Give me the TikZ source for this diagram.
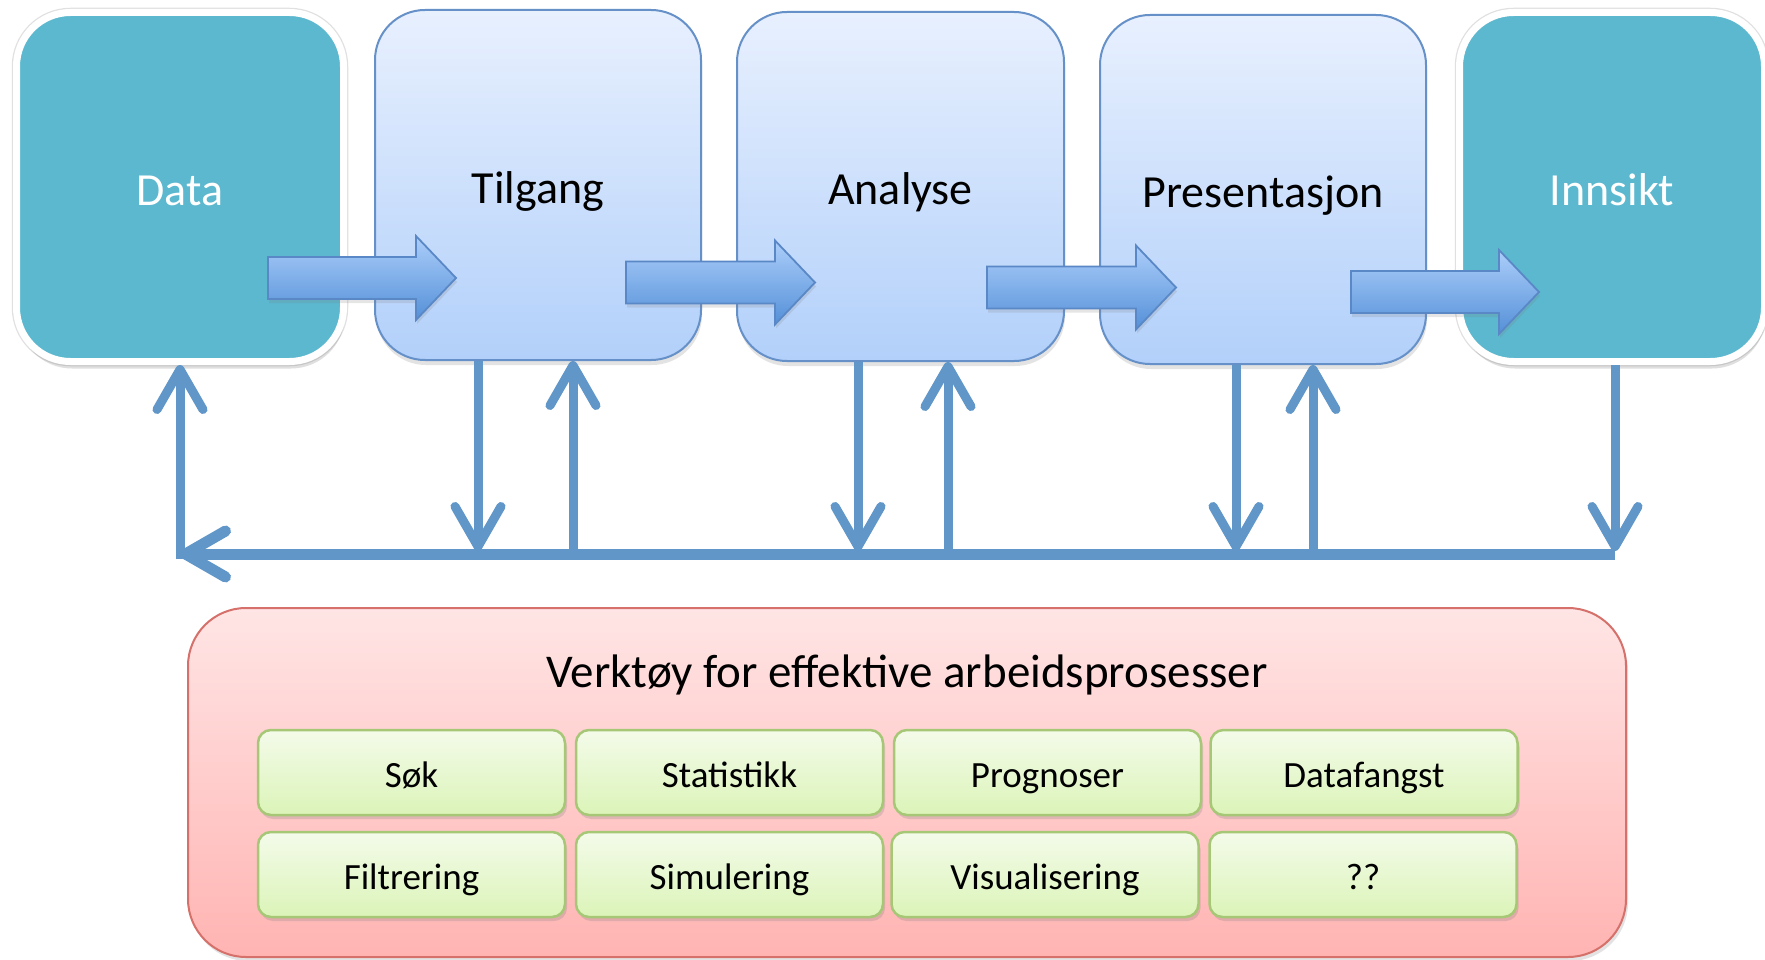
\documentclass[tikz,border=0pt]{standalone}
\usepackage{fontspec}
\setmainfont{Carlito}
\usetikzlibrary{arrows.meta,shadows,calc}
\definecolor{tealfill}{RGB}{91,184,207}
\definecolor{bluetop}{RGB}{232,240,254}
\definecolor{bluebot}{RGB}{178,208,250}
\definecolor{blueline}{RGB}{102,144,200}
\definecolor{arrtop}{RGB}{172,206,250}
\definecolor{arrbot}{RGB}{84,144,216}
\definecolor{arrline}{RGB}{90,136,198}
\definecolor{fbcol}{RGB}{96,150,200}
\definecolor{redtop}{RGB}{255,229,229}
\definecolor{redbot}{RGB}{255,180,178}
\definecolor{redline}{RGB}{214,112,106}
\definecolor{greentop}{RGB}{244,251,234}
\definecolor{greenbot}{RGB}{219,244,184}
\definecolor{greenline}{RGB}{166,200,118}
\newcommand{\flowarrow}[3]{%
  \draw[blockarrow] (#1,{#3-21}) -- ({#2-40},{#3-21}) -- ({#2-40},{#3-42}) -- (#2,#3)
    -- ({#2-40},{#3+42}) -- ({#2-40},{#3+21}) -- (#1,{#3+21}) -- cycle;}
\tikzset{
  bigtext/.style={font=\fontsize{46}{50}\selectfont, text height=46pt, text depth=9.2pt},
  tealbox/.style={rectangle, rounded corners=54pt, fill=tealfill, draw=white, line width=7pt,
    preaction={draw=black!12, line width=9.5pt},
    text=white, bigtext, inner sep=0pt,
    drop shadow={opacity=0.25, shadow xshift=1.5pt, shadow yshift=-7pt}},
  bluebox/.style={rectangle, rounded corners=50pt, top color=bluetop, bottom color=bluebot,
    draw=blueline, line width=2pt, text=black, bigtext, inner sep=0pt,
    drop shadow={opacity=0.22, shadow xshift=1pt, shadow yshift=-5pt}},
  blockarrow/.style={top color=arrtop, bottom color=arrbot, draw=arrline, line width=1.8pt,
    line join=miter, drop shadow={opacity=0.2, shadow xshift=1pt, shadow yshift=-4pt}},
  fb/.style={draw=fbcol, line width=9pt},
  fbh/.style={draw=fbcol, line width=11pt},
  >={Straight Barb[length=40pt, width=46pt, line cap=round, line join=round]},
  redbox/.style={rectangle, rounded corners=58pt, top color=redtop, bottom color=redbot,
    draw=redline, line width=2pt, inner sep=0pt,
    drop shadow={opacity=0.22, shadow xshift=2pt, shadow yshift=-4pt}},
  titletext/.style={font=\fontsize{47}{52}\selectfont, text height=47pt, text depth=9.4pt, inner sep=0pt},
  toolbox/.style={rectangle, rounded corners=13pt, top color=greentop, bottom color=greenbot,
    draw=greenline, line width=2.5pt, minimum width=307pt, minimum height=85pt, inner sep=0pt,
    font=\fontsize{37}{40}\selectfont, text height=37pt, text depth=7.4pt,
    drop shadow={opacity=0.25, shadow xshift=2pt, shadow yshift=-4pt}}
}
\begin{document}
\begin{tikzpicture}[x=1pt,y=-1pt]
\useasboundingbox[fill=white] (0,0) rectangle (1765,960);

% top process boxes
\node[tealbox, minimum width=327pt, minimum height=349pt] (data) at (180,187) {Data};
\node[bluebox, minimum width=326pt, minimum height=350pt] (tilgang) at (538,185) {Tilgang};
\node[bluebox, minimum width=327pt, minimum height=349pt] (analyse) at (900.5,186.5) {Analyse};
\node[bluebox, minimum width=326pt, minimum height=349pt] (presentasjon) at (1263,189.5) {Presentasjon};
\node[tealbox, minimum width=305pt, minimum height=349pt] (innsikt) at (1612,187) {Innsikt};

% block arrows between boxes
\flowarrow{268}{456}{278}
\flowarrow{626}{815}{282.5}
\flowarrow{987}{1176}{287.5}
\flowarrow{1351}{1539}{292}

% feedback loop
\coordinate (cdata) at (180,554);
\coordinate (ct1) at (478,551);
\coordinate (ct2) at (573,554);
\coordinate (ca1) at (858,551);
\coordinate (ca2) at (948,554);
\coordinate (cp1) at (1236,551);
\coordinate (cp2) at (1313,554);
\coordinate (ci) at (1615,551);
\coordinate (cend) at (1615,554);

\draw[fbh,->] (cend) -- (cdata);
\draw[fb,->] ($(cdata)+(0,5)$) -- (data.south -| cdata);
\draw[fb,->] (tilgang.south -| ct1) -- (ct1);
\draw[fb,->] (ct2) -- (tilgang.south -| ct2);
\draw[fb,->] (analyse.south -| ca1) -- (ca1);
\draw[fb,->] (ca2) -- (analyse.south -| ca2);
\draw[fb,->] (presentasjon.south -| cp1) -- (cp1);
\draw[fb,->] (cp2) -- (presentasjon.south -| cp2);
\draw[fb,->] (innsikt.south -| ci) -- (ci);

% tools panel
\node[redbox, minimum width=1438pt, minimum height=349pt] (tools) at (907,782.5) {};
\node[titletext] (title) at (907,669) {Verktøy for effektive arbeidsprosesser};

\node[toolbox] (sok) at (411.5,772.5) {Søk};
\node[toolbox] (statistikk) at (729.5,772.5) {Statistikk};
\node[toolbox] (prognoser) at (1047.5,772.5) {Prognoser};
\node[toolbox] (datafangst) at (1364,772.5) {Datafangst};
\node[toolbox] (filtrering) at (411.5,874.5) {Filtrering};
\node[toolbox] (simulering) at (729.5,874.5) {Simulering};
\node[toolbox] (visualisering) at (1045,874.5) {Visualisering};
\node[toolbox] (ukjent) at (1363,874.5) {??};
\end{tikzpicture}
\end{document}
